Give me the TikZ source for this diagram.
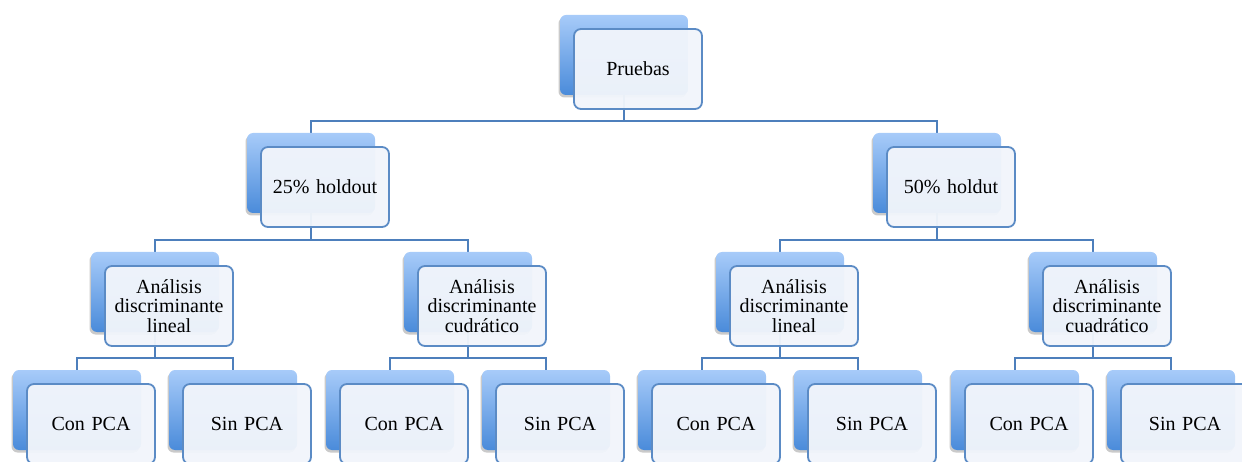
\documentclass[tikz,border=0pt]{standalone}
\usepackage{fontspec}
\setmainfont{Liberation Serif}
\usetikzlibrary{positioning,calc,shadows,backgrounds}
\definecolor{azulclaro}{HTML}{A7CBF9}
\definecolor{azuloscuro}{HTML}{4A8BDA}
\definecolor{borde}{HTML}{5B8BC5}
\definecolor{fondo}{HTML}{F1F5FB}
\definecolor{linea}{HTML}{4D7FBC}
\tikzset{
  atras/.style={rectangle, rounded corners=6pt, minimum width=128pt, minimum height=80pt,
    top color=azulclaro, bottom color=azuloscuro, draw=none,
    drop shadow={shadow xshift=-1.5pt, shadow yshift=-2.5pt, opacity=.35, fill=black!60}},
  frente/.style={rectangle, rounded corners=7pt, minimum width=128pt, minimum height=80pt,
    draw=borde, line width=1.8pt, fill=fondo, fill opacity=.96, text opacity=1,
    align=center, text width=120pt, inner sep=0pt,
    font=\fontsize{20}{19.5}\selectfont},
  enlace/.style={draw=linea, line width=1.8pt}
}

\begin{document}
\begin{tikzpicture}[x=1pt,y=-1pt]
\useasboundingbox (0,0) rectangle (1242,462);
%----------root------------------------------------
\node[atras] (pr) at (624,55) {};
\node[frente] (prF) at ([shift={(14,14)}]pr) {Pruebas};
%----------holdout--------------------------------
\node[atras] (h25) at (311,173) {};
\node[frente] (h25F) at ([shift={(14,14)}]h25) {25\% holdout};
\node[atras] (h50) at (937,173) {};
\node[frente] (h50F) at ([shift={(14,14)}]h50) {50\% holdut};
%----------analisis discriminante-----------------
\node[atras] (a1) at (155,292) {};
\node[frente] (a1F) at ([shift={(14,14)}]a1) {Análisis\\discriminante\\lineal};
\node[atras] (a2) at (468,292) {};
\node[frente] (a2F) at ([shift={(14,14)}]a2) {Análisis\\discriminante\\cudrático};
\node[atras] (a3) at (780,292) {};
\node[frente] (a3F) at ([shift={(14,14)}]a3) {Análisis\\discriminante\\lineal};
\node[atras] (a4) at (1093,292) {};
\node[frente] (a4F) at ([shift={(14,14)}]a4) {Análisis\\discriminante\\cuadrático};
%----------connectors-----------------------------
\begin{scope}[on background layer]
\draw[enlace] (pr.south) |- ($(prF.south)!.5!(h25.north)$) -| (h25.north);
\draw[enlace] (pr.south) |- ($(prF.south)!.5!(h50.north)$) -| (h50.north);
\draw[enlace] (h25.south) |- ($(h25F.south)!.5!(a1.north)$) -| (a1.north);
\draw[enlace] (h25.south) |- ($(h25F.south)!.5!(a2.north)$) -| (a2.north);
\draw[enlace] (h50.south) |- ($(h50F.south)!.5!(a3.north)$) -| (a3.north);
\draw[enlace] (h50.south) |- ($(h50F.south)!.5!(a4.north)$) -| (a4.north);
\end{scope}
%----------PCA leaves-----------------------------
\foreach \nom/\px/\padre/\txt in {c1/77/a1/Con PCA, s1/233/a1/Sin PCA,
    c2/390/a2/Con PCA, s2/546/a2/Sin PCA,
    c3/702/a3/Con PCA, s3/858/a3/Sin PCA,
    c4/1015/a4/Con PCA, s4/1171/a4/Sin PCA}{
  \node[atras] (\nom) at (\px,410) {};
  \node[frente] (\nom F) at ([shift={(14,14)}]\nom) {\txt};
  \begin{pgfonlayer}{background}
    \draw[enlace] (\padre.south) |- ($(\padre F.south)!.5!(\nom.north)$) -| (\nom.north);
  \end{pgfonlayer}
}
\end{tikzpicture}
\end{document}
